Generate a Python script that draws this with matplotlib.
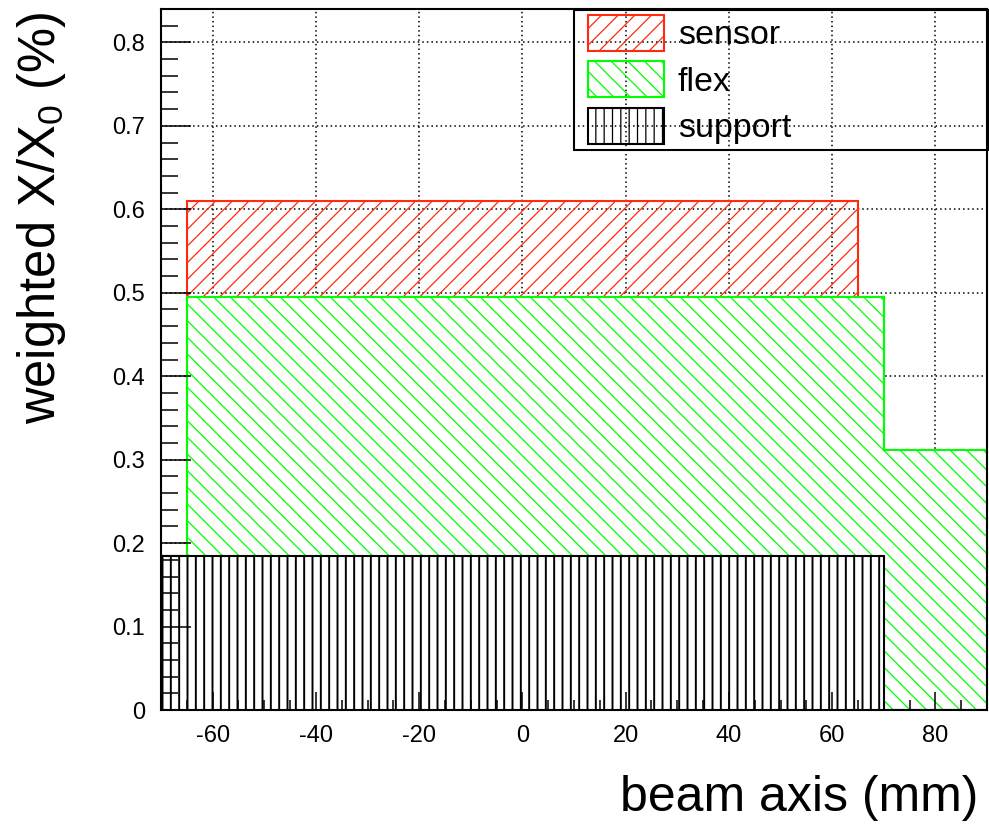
import matplotlib
matplotlib.use("Agg")
import matplotlib.pyplot as plt
import matplotlib.patches as mpatches
from matplotlib.ticker import MultipleLocator
import numpy as np

plt.rcParams.update({"font.family": ["Liberation Sans", "DejaVu Sans"],
                     "mathtext.fontset": "custom",
                     "mathtext.rm": "Liberation Sans",
                     "mathtext.default": "regular"})

# beam-axis bins (mm) and weighted X/X0 (%) per layer, not yet stacked
bin_edges = [-70, -65, 65, 70, 90]
support = [0.185, 0.185, 0.185, 0.0]
flex = [0.0, 0.31, 0.31, 0.312]
sensor = [0.0, 0.115, 0.0, 0.0]
layer_names = ["sensor", "flex", "support"]

x_ticks = [-60, -40, -20, 0, 20, 40, 60, 80]
x_tick_labels = ["-60", "-40", "-20", "0", "20", "40", "60", "80"]
y_ticks = [0, 0.1, 0.2, 0.3, 0.4, 0.5, 0.6, 0.7, 0.8]
y_tick_labels = ["0", "0.1", "0.2", "0.3", "0.4", "0.5", "0.6", "0.7", "0.8"]

RED, GREEN, BLACK = "#ff2a10", "#00ff00", "black"
STYLES = [(RED, "//", 0.9), (GREEN, "\\\\", 0.9), (BLACK, "||", 1.4)]

# stack: support at the bottom, then flex, then sensor
c_support = np.array(support)
c_flex = c_support + np.array(flex)
c_sensor = c_flex + np.array(sensor)

fig = plt.figure(figsize=(9.89, 8.26), dpi=100)
ax = fig.add_axes([0.1628, 0.1404, 0.8352, 0.8487])
ax.set_xlim(-70, 90)
ax.set_ylim(0, 0.84)

# dotted grid under the histograms (ticks must stay on top)
grid_kw = dict(color="black", linewidth=1.1, linestyle=(0, (1.0, 2.0)), zorder=0)
ax.vlines(x_ticks, 0, 0.84, **grid_kw)
ax.hlines(y_ticks[1:], -70, 90, **grid_kw)


def layer(values, face, style, z):
    edge, hatch, hlw = style
    p = ax.stairs(values, bin_edges, baseline=0, fill=True, facecolor=face,
                  edgecolor=edge, hatch=hatch, linewidth=1.5, zorder=z)
    if hasattr(p, "set_hatch_linewidth"):
        p.set_hatch_linewidth(hlw)
    return p


plt.rcParams["hatch.linewidth"] = 0.9
layer(c_sensor, "none", STYLES[0], 1.0)
layer(c_flex, "white", STYLES[1], 1.1)
layer(c_support, "white", STYLES[2], 1.2)

ax.set_xticks(x_ticks, labels=x_tick_labels)
ax.set_yticks(y_ticks, labels=y_tick_labels)
ax.xaxis.set_minor_locator(MultipleLocator(5))
ax.yaxis.set_minor_locator(MultipleLocator(0.02))
ax.tick_params(which="both", direction="in", width=1.1, labelsize=17,
               top=False, right=False)
ax.tick_params(axis="x", which="major", length=13, pad=10.5)
ax.tick_params(axis="x", which="minor", length=7.2)
ax.tick_params(axis="y", which="major", length=21.6, pad=11.5)
ax.tick_params(axis="y", which="minor", length=12.2)
for s in ax.spines.values():
    s.set_linewidth(1.5)

ax.set_xlabel("beam axis (mm)", fontsize=36, ha="right")
ax.xaxis.set_label_coords(0.989, -0.092)
ax.set_ylabel("weighted X/X$_0$ (%)", fontsize=36.5, ha="right")
ax.yaxis.set_label_coords(-0.113, 0.997)

# legend box drawn separately so the entries can sit where they do in the original
ax.add_patch(mpatches.Rectangle((0.5, 0.799), 0.501, 0.2, transform=ax.transAxes,
                                facecolor="none", edgecolor="black", linewidth=1.5,
                                clip_on=False, zorder=3))
handles = []
for edge, hatch, hlw in STYLES:
    h = mpatches.Patch(facecolor="none", edgecolor=edge, hatch=hatch, linewidth=1.5)
    if hasattr(h, "set_hatch_linewidth"):
        h.set_hatch_linewidth(hlw)
    handles.append(h)
ax.legend(handles, layer_names, loc="upper left",
          bbox_to_anchor=(0.517, 0.992), frameon=False,
          borderaxespad=0, borderpad=0, fontsize=24.5, handlelength=2.24,
          handleheight=1.254, labelspacing=0.30, handletextpad=0.40)

fig.savefig("out.png", dpi=100)
